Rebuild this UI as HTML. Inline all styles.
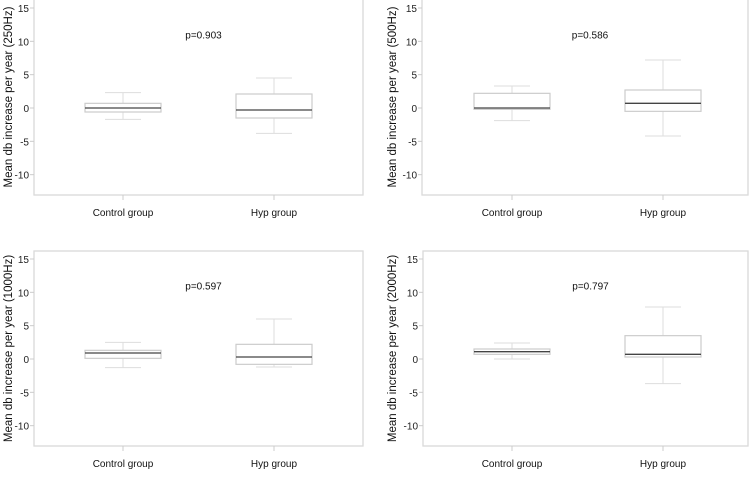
<!DOCTYPE html>
<html><head><meta charset="utf-8"><style>
body{margin:0;background:#fff;width:750px;height:491px;overflow:hidden}
svg{display:block;font-family:"Liberation Sans",sans-serif}
</style></head><body>
<svg id="c" width="750" height="491"></svg>
<script>
const categories=["Control group","Hyp group"];
const yTicks=[15,10,5,0,-5,-10];
const panelTitles=["Mean db increase per year (250Hz)","Mean db increase per year (500Hz)","Mean db increase per year (1000Hz)","Mean db increase per year (2000Hz)"];
const pValues=["p=0.903","p=0.586","p=0.597","p=0.797"];
// [upper whisker, q3, median, q1, lower whisker]
const stats250=[[2.3,0.7,0,-0.6,-1.7],[4.5,2.1,-0.3,-1.5,-3.8]];
const stats500=[[3.3,2.2,0.0,-0.2,-1.9],[7.2,2.7,0.7,-0.5,-4.2]];
const stats1000=[[2.5,1.3,0.9,0.1,-1.3],[6.0,2.2,0.3,-0.8,-1.2]];
const stats2000=[[2.4,1.5,1.1,0.7,0.0],[7.8,3.5,0.7,0.3,-3.7]];
const allStats=[stats250,stats500,stats1000,stats2000];
const svg=document.getElementById('c');
const NS='http://www.w3.org/2000/svg';
function mk(t,a,p){const e=document.createElementNS(NS,t);for(const k in a)e.setAttribute(k,a[k]);(p||svg).appendChild(e);return e;}
const panels=[{x0:34,x1:363,top:-1,bot:195,y15:8,c:[123,274],lab:8},{x0:422,x1:748,top:-1,bot:195,y15:8,c:[512,663],lab:392},
{x0:34,x1:363,top:251,bot:446,y15:259,c:[123,274],lab:8},{x0:423,x1:748,top:251,bot:446,y15:259,c:[512,663],lab:392}];
panels.forEach((P,i)=>{
  const g=mk('g',{});
  
  
  const y=v=>P.y15+(15-v)*100/15;
  const fr=mk('rect',{x:P.x0,y:P.top,width:P.x1-P.x0,height:P.bot-P.top,fill:'none',stroke:'#d9d9d9','stroke-width':1.3},g);
  
  yTicks.forEach(t=>{
    mk('line',{x1:P.x0-4,x2:P.x0,y1:y(t),y2:y(t),stroke:'#ccc'},g);
    const tx=mk('text',{x:P.x0-5,y:y(t)+4,'text-anchor':'end','font-size':10,fill:'#222'},g);
    tx.textContent=t;
  });
  const cy=(P.top+P.bot)/2;
  const yl=mk('text',{x:0,y:0,transform:`translate(${P.lab+4},${cy}) rotate(-90)`,'text-anchor':'middle','font-size':11.5,fill:'#111'},g);
  yl.textContent=panelTitles[i];
  const pt=mk('text',{x:(P.x0+P.x1)/2+5,y:y(11.0)+4,'text-anchor':'middle','font-size':10,fill:'#111'},g);
  pt.textContent=pValues[i];
  categories.forEach((cat,j)=>{
    const cx=P.c[j],s=allStats[i][j];
    mk('line',{x1:cx,x2:cx,y1:P.bot,y2:P.bot+5,stroke:'#ccc'},g);
    const xl=mk('text',{x:cx,y:P.bot+21,'text-anchor':'middle','font-size':10,fill:'#111'},g);
    xl.textContent=cat;
    const bg=mk('g',{},g);
    
    mk('line',{x1:cx,x2:cx,y1:y(s[0]),y2:y(s[1]),stroke:'#ddd'},bg);
    mk('line',{x1:cx,x2:cx,y1:y(s[3]),y2:y(s[4]),stroke:'#ddd'},bg);
    mk('line',{x1:cx-18,x2:cx+18,y1:y(s[0]),y2:y(s[0]),stroke:'#ddd'},bg);
    mk('line',{x1:cx-18,x2:cx+18,y1:y(s[4]),y2:y(s[4]),stroke:'#ddd'},bg);
    mk('rect',{x:cx-38,y:y(s[1]),width:76,height:y(s[3])-y(s[1]),fill:'#fff',stroke:'#ccc','stroke-width':1.2},bg);
    mk('line',{x1:cx-38,x2:cx+38,y1:y(s[2]),y2:y(s[2]),stroke:'#444','stroke-width':1.3},bg);
  });
});
</script>
</body></html>
